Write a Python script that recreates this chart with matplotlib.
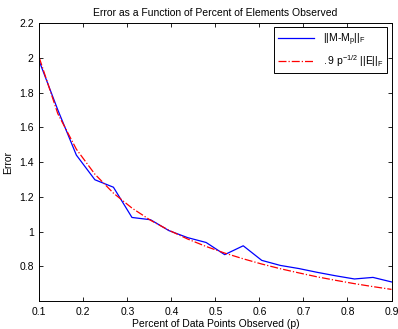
import matplotlib
matplotlib.use("Agg")
import matplotlib.pyplot as plt

plt.rcParams['font.family'] = ['Liberation Sans', 'DejaVu Sans']
plt.rcParams['mathtext.fontset'] = 'custom'
plt.rcParams['mathtext.rm'] = 'Liberation Sans'
plt.rcParams['mathtext.it'] = 'Liberation Sans'
plt.rcParams['mathtext.default'] = 'regular'

p = [0.1, 0.1421, 0.1842, 0.2263, 0.2684, 0.3105, 0.3526, 0.3947, 0.4368, 0.4789,
     0.5211, 0.5632, 0.6053, 0.6474, 0.6895, 0.7316, 0.7737, 0.8158, 0.8579, 0.9]
err_obs = [1.98, 1.70, 1.44, 1.298, 1.255, 1.081, 1.068, 1.005, 0.965, 0.937,
           0.867, 0.918, 0.834, 0.805, 0.787, 0.765, 0.745, 0.727, 0.736, 0.71]
err_bound = [2.0, 1.678, 1.474, 1.330, 1.221, 1.135, 1.065, 1.007, 0.957, 0.914,
             0.876, 0.843, 0.813, 0.786, 0.762, 0.739, 0.719, 0.700, 0.683, 0.667]
xticks = [0.1, 0.2, 0.3, 0.4, 0.5, 0.6, 0.7, 0.8, 0.9]
yticks = [0.8, 1.0, 1.2, 1.4, 1.6, 1.8, 2.0, 2.2]
yticklabels = ['0.8', '1', '1.2', '1.4', '1.6', '1.8', '2', '2.2']

fig = plt.figure(figsize=(3.98, 3.29), dpi=100)
ax = fig.add_axes([0.0987, 0.085, 0.8850, 0.845])
ax.plot(p, err_obs, color='#0000ff', lw=0.9, label=r'$||M\text{-}M_p||_F$')
ax.plot(p, err_bound, color='#ff0000', lw=0.9, ls='-.', label=r'$.9\ p^{-1/2}\ ||E||_F$')
ax.set_xlim(0.1, 0.9)
ax.set_ylim(0.6, 2.2)
ax.set_xticks(xticks)
ax.set_xticklabels([str(t) for t in xticks])
ax.set_yticks(yticks)
ax.set_yticklabels(yticklabels)
ax.tick_params(direction='in', top=True, right=True, labelsize=7.5, length=3, width=0.6, pad=4)
for s in ax.spines.values():
    s.set_linewidth(0.7)
ax.set_title('Error as a Function of Percent of Elements Observed', fontsize=7.5, pad=5)
ax.set_xlabel('Percent of Data Points Observed (p)', fontsize=7.5, labelpad=2)
ax.set_ylabel('Error', fontsize=7.5, labelpad=4)
leg = ax.legend(loc='upper right', fontsize=7.5, fancybox=False, framealpha=1,
                edgecolor='black', borderaxespad=0.4, handlelength=3.5)
leg.get_frame().set_linewidth(0.7)
fig.savefig('out.png', dpi=100)
